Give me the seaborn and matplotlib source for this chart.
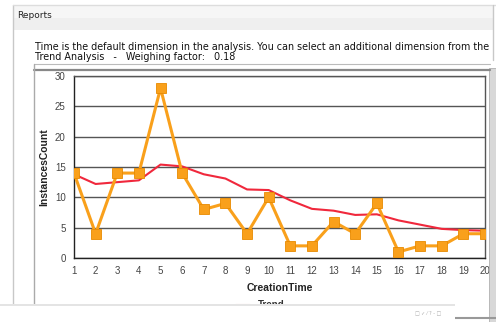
import matplotlib
matplotlib.use("Agg")
import matplotlib.pyplot as plt
import seaborn as sns
import pandas as pd
from matplotlib.patches import Rectangle
from matplotlib.lines import Line2D

creation_time = list(range(1, 21))
instances = [14, 4, 14, 14, 28, 14, 8, 9, 4, 10, 2, 2, 6, 4, 9, 1, 2, 2, 4, 4]
trend = [13.8, 12.2, 12.5, 12.8, 15.4, 15.1, 13.8, 13.1, 11.3, 11.2,
         9.5, 8.1, 7.8, 7.1, 7.2, 6.2, 5.5, 4.8, 4.6, 4.5]
y_ticks = [0, 5, 10, 15, 20, 25, 30]

df = pd.DataFrame({"CreationTime": creation_time, "InstancesCount": instances, "Trend": trend})

sns.set_style("white")
plt.rcParams['font.family'] = ['DejaVu Sans']

W, H = 496, 322
fig = plt.figure(figsize=(W / 100, H / 100), dpi=100)
fig.patch.set_facecolor("white")

def fx(x):
    return x / W

def fy(y):
    return 1 - y / H

# outer panel header
fig.patches.append(Rectangle((fx(13), fy(30)), fx(480), 25 / H, transform=fig.transFigure,
                             facecolor="#efefef", edgecolor="none", zorder=0))
fig.patches.append(Rectangle((fx(13), fy(18)), fx(480), 13 / H, transform=fig.transFigure,
                             facecolor="#f6f6f6", edgecolor="none", zorder=0))
fig.lines.append(Line2D([fx(13), fx(13)], [fy(5), fy(322)], transform=fig.transFigure, color="#c8c8c8", lw=1))
fig.lines.append(Line2D([fx(13), fx(496)], [fy(5), fy(5)], transform=fig.transFigure, color="#dddddd", lw=1))
fig.lines.append(Line2D([fx(493), fx(493)], [fy(5), fy(60)], transform=fig.transFigure, color="#c8c8c8", lw=1))
fig.text(fx(17), fy(15), "Reports", fontsize=6.5, color="#222222", va="center", ha="left")

fig.text(fx(35), fy(47), "Time is the default dimension in the analysis. You can select an additional dimension from the",
         fontsize=6.95, color="#111111", va="center", ha="left")
fig.text(fx(35), fy(57), "Trend Analysis   -   Weighing factor:   0.18",
         fontsize=6.95, color="#111111", va="center", ha="left")

# inner chart panel
fig.lines.append(Line2D([fx(34), fx(490)], [fy(64), fy(64)], transform=fig.transFigure, color="#bbbbbb", lw=0.8))
fig.lines.append(Line2D([fx(34), fx(490)], [fy(70), fy(70)], transform=fig.transFigure, color="#888888", lw=1.6))
fig.lines.append(Line2D([fx(34), fx(34)], [fy(64), fy(322)], transform=fig.transFigure, color="#aaaaaa", lw=1))
fig.patches.append(Rectangle((fx(489), fy(322)), fx(7), (322 - 68) / H, transform=fig.transFigure,
                             facecolor="#d8d8d8", edgecolor="#b0b0b0", lw=0.6, zorder=0))

ax = fig.add_axes([fx(74), fy(258), fx(485 - 74), (258 - 76) / H])
sns.lineplot(data=df, x="CreationTime", y="Trend", ax=ax, color="#f0283c", lw=1.5, zorder=3)
sns.lineplot(data=df, x="CreationTime", y="InstancesCount", ax=ax, color="#f9a01b", lw=2.2,
             marker="s", markersize=7, markeredgecolor="#e88a00", markeredgewidth=0.6, zorder=4)
ax.set_xlim(1, 20)
ax.set_ylim(0, 30)
ax.set_xticks(creation_time)
ax.set_yticks(y_ticks)
ax.grid(axis="y", color="#555555", lw=1)
ax.set_axisbelow(True)
for s in ax.spines.values():
    s.set_color("#555555")
    s.set_linewidth(1)
ax.spines["left"].set_color("#222222")
ax.spines["bottom"].set_color("#222222")
ax.tick_params(axis="both", direction="out", length=4, width=1, color="#333333",
               labelsize=7, labelcolor="#444444", pad=2)
ax.set_xlabel("CreationTime", fontsize=7.5, fontweight="bold", color="#222222", labelpad=5,
              family="Liberation Sans")
ax.set_ylabel("InstancesCount", fontsize=7.5, fontweight="bold", color="#222222", labelpad=4,
              family="Liberation Sans")
for lab in ax.get_xticklabels() + ax.get_yticklabels():
    lab.set_family("Liberation Sans")

# partially visible legend
fig.lines.append(Line2D([fx(236), fx(250)], [fy(305), fy(305)], transform=fig.transFigure, color="#f6b0b0", lw=1.5))
fig.text(fx(258), fy(305), "Trend", fontsize=7, fontweight="bold", color="#333333", va="center", ha="left",
         family="Liberation Sans")

# overlay bar at bottom
fig.patches.append(Rectangle((0, 0), fx(455), 16 / H, transform=fig.transFigure,
                             facecolor="white", edgecolor="none", zorder=10))
fig.patches.append(Rectangle((0, fy(306)), fx(455), 2 / H, transform=fig.transFigure,
                             facecolor="#e4e4e4", edgecolor="none", zorder=10))
fig.text(fx(428), fy(313), "\u25a1 \u2713 \u2044 ? - \u25a1", fontsize=3.5, color="#aaaaaa",
         va="center", ha="center", zorder=11)
fig.lines.append(Line2D([fx(455), fx(496)], [fy(318), fy(318)], transform=fig.transFigure, color="#999999", lw=1.5))

fig.savefig("out.png", dpi=100, facecolor="white")
